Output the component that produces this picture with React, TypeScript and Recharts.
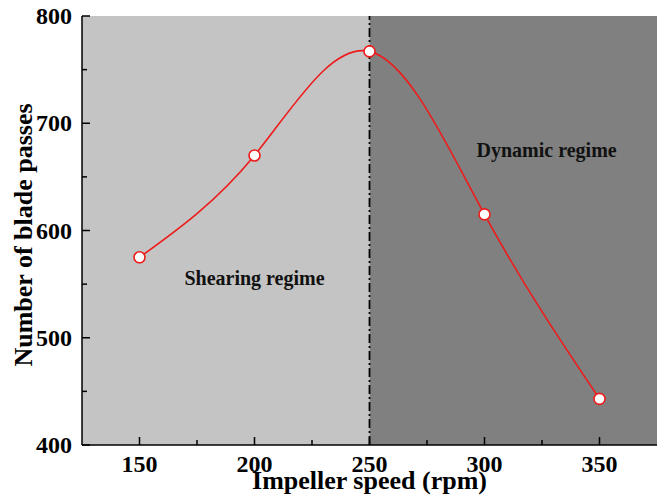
import React from 'react';
import {
  LineChart, Line, XAxis, YAxis, ReferenceArea, ReferenceLine, ReferenceDot,
} from 'recharts';

const speeds = [150, 200, 250, 300, 350];
const bladePasses = [575, 670, 767, 615, 443];
const xTicks = [150, 175, 200, 225, 250, 275, 300, 325, 350];
const xMajor = [150, 200, 250, 300, 350];
const yTicks = [400, 450, 500, 550, 600, 650, 700, 750, 800];
const yMajor = [400, 500, 600, 700, 800];
const xDomain = [125, 375];
const yDomain = [400, 800];
const regimeBoundary = 250;
const shearingLabel = { x: 200, y: 556, text: 'Shearing regime' };
const dynamicLabel = { x: 327, y: 675, text: 'Dynamic regime' };
const xTitle = 'Impeller speed (rpm)';
const yTitle = 'Number of blade passes';

const data = speeds.map((s, i) => ({ speed: s, passes: bladePasses[i] }));

const FONT = '"Liberation Serif", "Times New Roman", serif';
const TM = 10;
const RED = '#ee1b1b';

const BottomTick = (props: any) => {
  const { x, y, payload } = props;
  const axisY = y - TM;
  const major = xMajor.includes(payload.value);
  return (
    <g>
      <line x1={x} x2={x} y1={axisY} y2={axisY - (major ? 8 : 5)} stroke="#000" strokeWidth={1.5} />
      {major && (
        <text x={x} y={axisY + 27} textAnchor="middle" fontFamily={FONT} fontWeight="bold" fontSize={24} fill="#000">
          {payload.value}
        </text>
      )}
    </g>
  );
};

const TopTick = (props: any) => {
  const { x, y, payload } = props;
  const axisY = y + TM;
  const major = xMajor.includes(payload.value);
  return <line x1={x} x2={x} y1={axisY} y2={axisY + (major ? 8 : 5)} stroke="#000" strokeWidth={1.5} />;
};

const LeftTick = (props: any) => {
  const { x, y, payload } = props;
  const axisX = x + TM;
  const major = yMajor.includes(payload.value);
  return (
    <g>
      <line x1={axisX} x2={axisX + (major ? 8 : 5)} y1={y} y2={y} stroke="#000" strokeWidth={1.5} />
      {major && (
        <text x={axisX - 10} y={y + 8} textAnchor="end" fontFamily={FONT} fontWeight="bold" fontSize={24} fill="#000">
          {payload.value}
        </text>
      )}
    </g>
  );
};

const RightTick = (props: any) => {
  const { x, y, payload } = props;
  const axisX = x - TM;
  const major = yMajor.includes(payload.value);
  return <line x1={axisX} x2={axisX - (major ? 8 : 5)} y1={y} y2={y} stroke="#000" strokeWidth={1.5} />;
};

const XTitle = () => (
  <text x={369.5} y={489} textAnchor="middle" fontFamily={FONT} fontWeight="bold" fontSize={26} fill="#000">
    {xTitle}
  </text>
);

const YTitle = () => {
  const cy = 235;
  const bx = 32;
  return (
    <text x={bx} y={cy} transform={`rotate(-90, ${bx}, ${cy})`} textAnchor="middle" fontFamily={FONT} fontWeight="bold" fontSize={26} fill="#000">
      {yTitle}
    </text>
  );
};

export default function App() {
  return (
    <div style={{ position: 'absolute', left: 0, top: 0, width: 659, height: 504, background: '#fff' }}>
      <LineChart width={659} height={504} data={data} margin={{ top: 16, right: 2, bottom: 0, left: 0 }}>
        <XAxis
          dataKey="speed" type="number" domain={xDomain} ticks={xTicks} interval={0}
          height={59} tickSize={0} tickMargin={TM} tick={<BottomTick />}
          axisLine={{ stroke: '#000', strokeWidth: 1.5 }} tickLine={false}
          label={<XTitle />}
        />
        <XAxis
          xAxisId="top" orientation="top" dataKey="speed" type="number" domain={xDomain} ticks={xTicks} interval={0}
          height={0} tickSize={0} tickMargin={TM} tick={<TopTick />}
          axisLine={{ stroke: '#000', strokeWidth: 1.5 }} tickLine={false}
        />
        <YAxis
          type="number" domain={yDomain} ticks={yTicks} interval={0}
          width={82} tickSize={0} tickMargin={TM} tick={<LeftTick />}
          axisLine={{ stroke: '#000', strokeWidth: 1.5 }} tickLine={false}
          label={<YTitle />}
        />
        <YAxis
          yAxisId="right" orientation="right" type="number" domain={yDomain} ticks={yTicks} interval={0}
          width={0} tickSize={0} tickMargin={TM} tick={<RightTick />}
          axisLine={{ stroke: '#000', strokeWidth: 1.5 }} tickLine={false}
        />
        <ReferenceArea x1={xDomain[0]} x2={regimeBoundary} y1={yDomain[0]} y2={yDomain[1]} fill="#c4c4c4" fillOpacity={1} stroke="none" />
        <ReferenceArea x1={regimeBoundary} x2={xDomain[1]} y1={yDomain[0]} y2={yDomain[1]} fill="#808080" fillOpacity={1} stroke="none" />
        <ReferenceLine x={regimeBoundary} stroke="#000" strokeWidth={1.8} strokeDasharray="9 3 2 3" />
        <ReferenceDot x={shearingLabel.x} y={shearingLabel.y} r={0} fill="none" stroke="none"
          label={{ value: shearingLabel.text, position: 'center', style: { fontFamily: FONT, fontWeight: 'bold', fontSize: 20, fill: '#111' } }} />
        <ReferenceDot x={dynamicLabel.x} y={dynamicLabel.y} r={0} fill="none" stroke="none"
          label={{ value: dynamicLabel.text, position: 'center', style: { fontFamily: FONT, fontWeight: 'bold', fontSize: 20, fill: '#111' } }} />
        <Line
          type="natural" dataKey="passes" stroke={RED} strokeWidth={1.6} isAnimationActive={false}
          dot={{ r: 5.5, fill: '#fff', stroke: RED, strokeWidth: 1.6 }} activeDot={false}
        />
      </LineChart>
    </div>
  );
}
